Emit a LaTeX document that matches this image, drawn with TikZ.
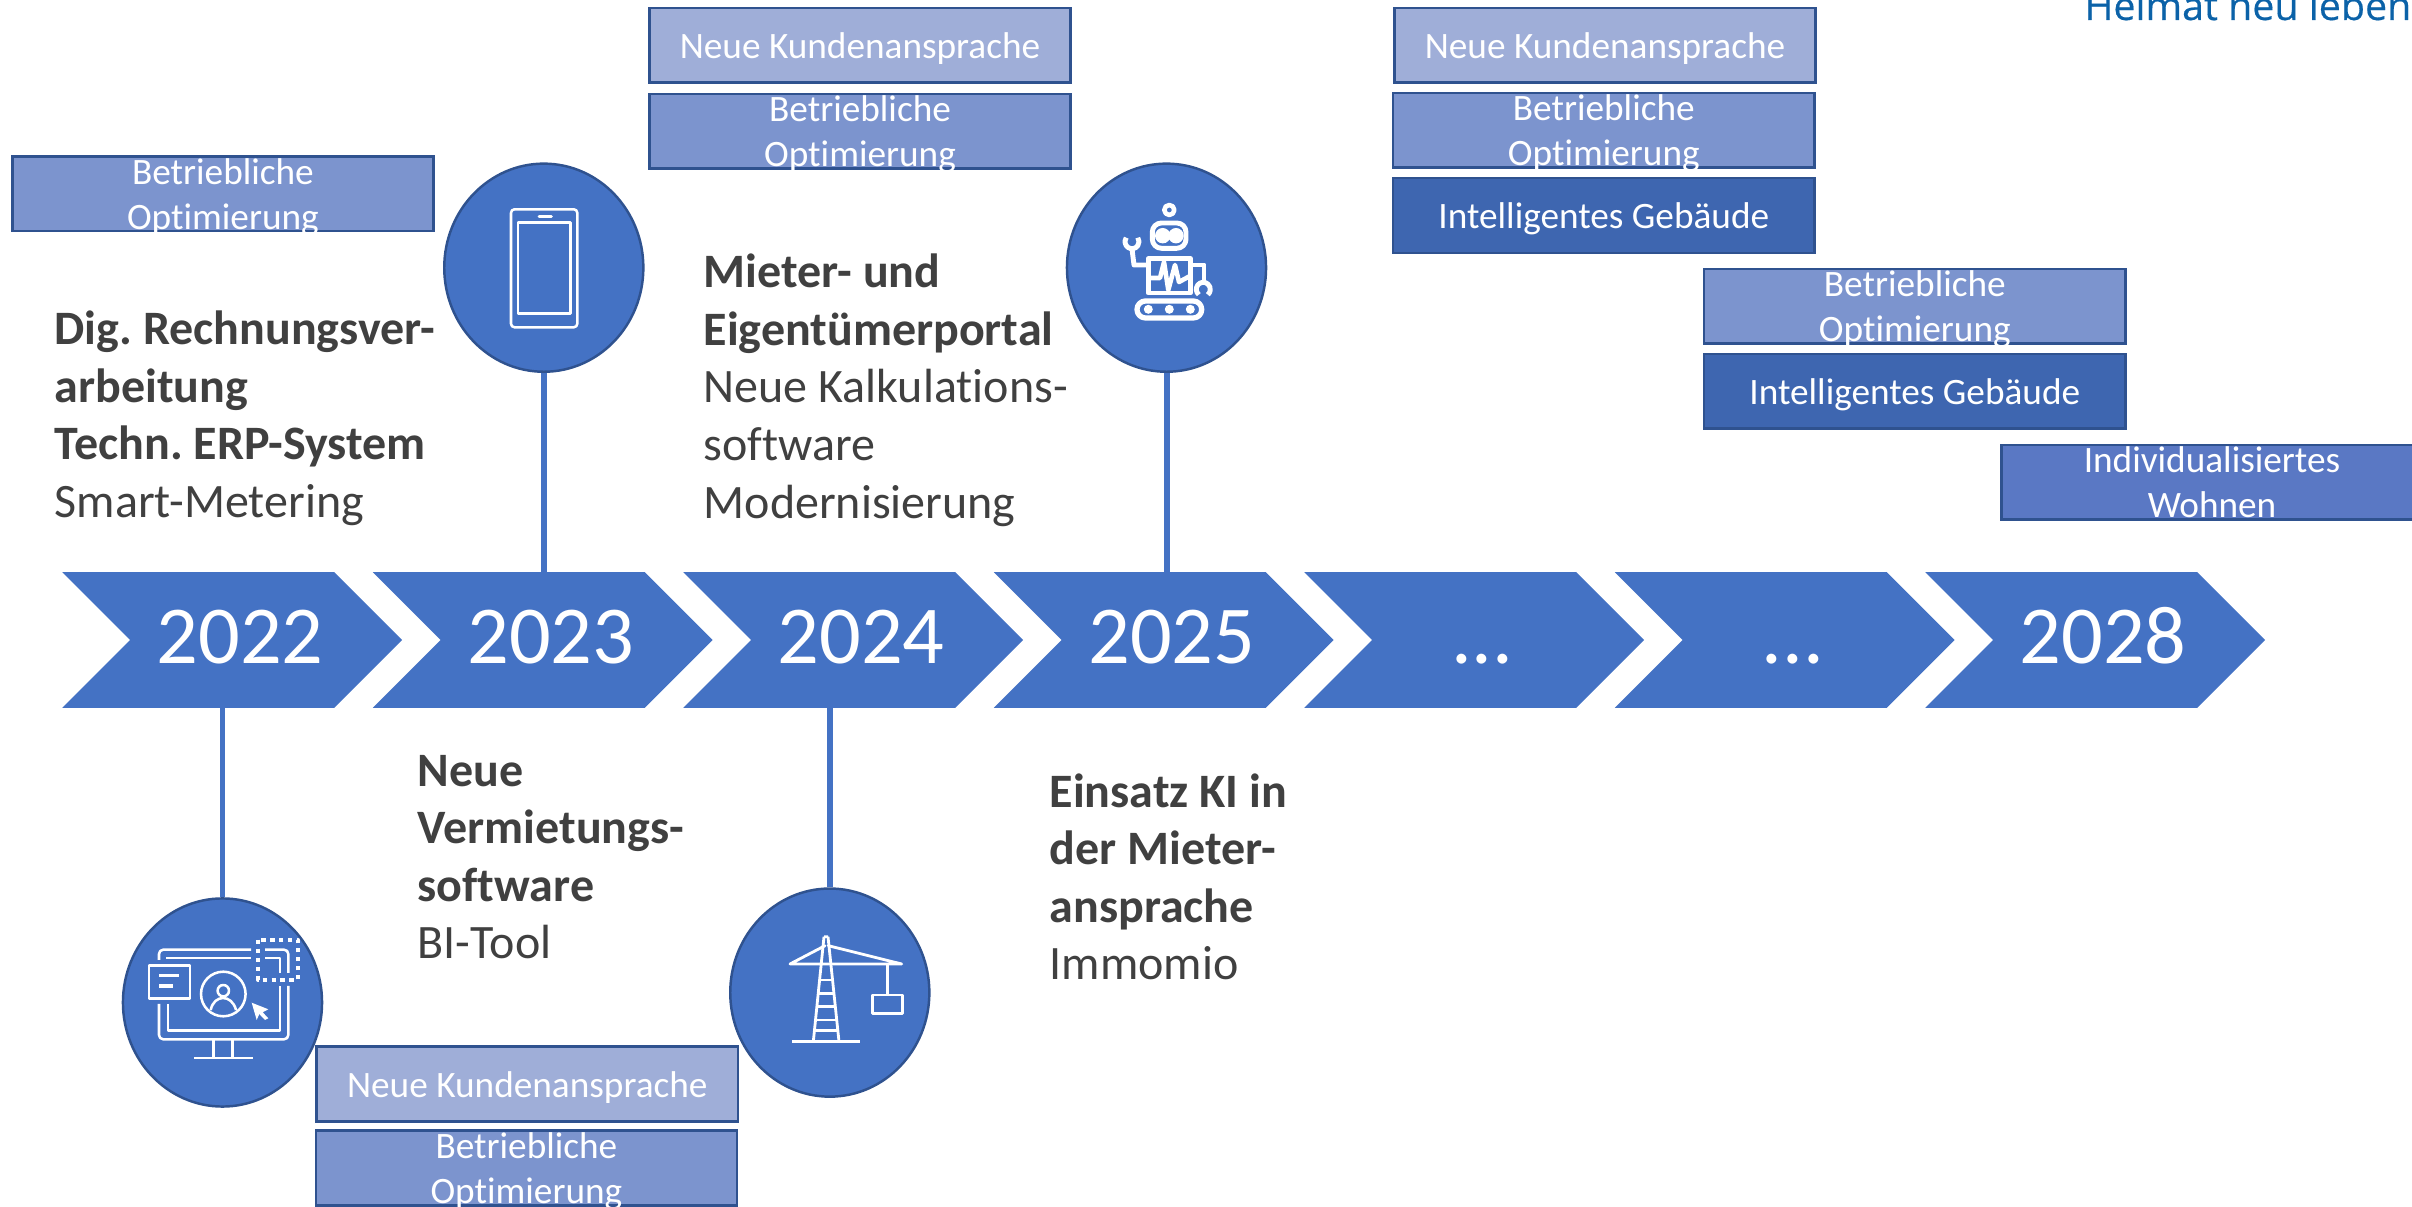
\documentclass[tikz,border=0pt]{standalone}
\usepackage{fontspec}
\setmainfont[Ligatures=NoCommon]{Carlito}
\newfontfamily\logofont[FakeBold=0.4]{Open Sans}
\usetikzlibrary{shapes}
\frenchspacing

\definecolor{fillblue}{HTML}{4472C4}
\definecolor{edgeblue}{HTML}{2F528F}
\definecolor{neublue}{HTML}{9FAED8}
\definecolor{optblue}{HTML}{7C94CE}
\definecolor{intblue}{HTML}{3E66B0}
\definecolor{indblue}{HTML}{5A78C4}
\definecolor{logoblue}{HTML}{0B62A8}
\definecolor{bodygray}{HTML}{404040}

\begin{document}
\begin{tikzpicture}[x=.01cm, y=-.01cm]
    \tikzstyle{year} = [shape=signal, signal from=west, signal to=east, signal pointer angle=90,
        fill=fillblue, text=white, inner sep=0, outer sep=0, minimum width=3.395cm, minimum height=1.355cm,
        text height=.47cm, text depth=0cm,
        font=\fontsize{23.4}{28}\selectfont, execute at begin node=\hspace*{.16cm}]
    \tikzstyle{round} = [shape=ellipse, draw=edgeblue, line width=.7pt, fill=fillblue, inner sep=0,
        minimum width=1.99cm, minimum height=2.08cm]
    \tikzstyle{stem} = [color=fillblue, line width=1.7pt]
    \tikzstyle{tag} = [shape=rectangle, draw=edgeblue, line width=.7pt, text=white, inner sep=0, align=center,
        minimum width=4.21cm, minimum height=.745cm, font=\fontsize{10.6}{12.8}\selectfont]
    \tikzstyle{oneline} = [tag, text height=.27cm, text depth=0cm]
    \tikzstyle{twolines} = [tag, text height=.71cm, text depth=0cm]
    \tikzstyle{para} = [anchor=north west, inner sep=0, align=left, text=bodygray,
        font=\fontsize{13.65}{16.36}\selectfont]
    \tikzstyle{icon} = [color=white, line width=.72pt, line join=round]

    \useasboundingbox (0, 0) rectangle (2412, 1207);

    \node (logo) [anchor=base east, inner sep=0, text=logoblue] at (2412, 20) {\logofont\fontsize{11.2}{13}\selectfont Heimat neu leben};

    % timeline
    \node (y22) [year] at (232.2, 640) {2022};
    \node (y23) [year] at (542.7, 640) {2023};
    \node (y24) [year] at (853.2, 640) {2024};
    \node (y25) [year] at (1163.7, 640) {2025};
    \node (y26) [year] at (1474.2, 640) {...};
    \node (y27) [year] at (1784.7, 640) {...};
    \node (y28) [year] at (2095.2, 640) {2028};

    \node (c22) [round] at (222.5, 1002.5) {};
    \node (c23) [round] at (543.8, 267.7) {};
    \node (c24) [round] at (829.8, 992.6) {};
    \node (c25) [round] at (1166.5, 267.7) {};

    \draw [stem] (c22) -- (c22 |- y22.south);
    \draw [stem] (c23) -- (c23 |- y23.north);
    \draw [stem] (c24) -- (c24 |- y24.south);
    \draw [stem] (c25) -- (c25 |- y25.north);

    % phone
    \draw [icon, rounded corners=1pt] (511, 209.3) rectangle (577.3, 327.3);
    \draw [icon] (518, 222.7) rectangle (570.7, 313.7);
    \draw [icon, line width=.8pt, line cap=round] (539, 216.7) -- (551.5, 216.7);

    % monitor
    \draw [icon, rounded corners=1.2pt] (159, 960) -- (159, 949.7) -- (251, 949.7);
    \draw [icon, rounded corners=1.2pt] (159, 1004) -- (159, 1039.3) -- (288.3, 1039.3) -- (288.3, 986);
    \draw [icon, rounded corners=1.2pt] (265, 949.7) -- (288.3, 949.7) -- (288.3, 973);
    \draw [icon] (166, 958) -- (251, 958);
    \draw [icon] (168, 1004) -- (168, 1030.7) -- (280, 1030.7) -- (280, 986);
    \draw [icon] (265, 958) -- (280, 958) -- (280, 973);
    \draw [icon] (149, 965.7) rectangle (190, 998.3);
    \draw [icon, line width=1pt] (159, 975.7) -- (179, 975.7) (159, 986) -- (172.7, 986);
    \draw [icon] (223.3, 994) circle [radius=22.3];
    \draw [icon] (223.3, 990.7) circle [radius=5.7];
    \draw [icon] (210.7, 1010) .. controls (214, 994) and (232, 994) .. (236, 1010);
    \fill [white] (251.7, 1002.7) -- (268.3, 1009.3) -- (262.7, 1012.3) -- (268.3, 1018.3) -- (265, 1020) -- (259.3, 1014) -- (256.7, 1020) -- cycle;
    \draw [icon, line width=1.1pt, dash pattern=on 1.3pt off 1.25pt] (258, 939.7) rectangle (297.7, 980);
    \draw [icon] (213.3, 1039.3) -- (213.3, 1058) (232.7, 1039.3) -- (232.7, 1058);
    \draw [icon] (194, 1058) -- (252.7, 1058);

    % crane
    \draw [icon, line width=.8pt] (824, 936.7) -- (813.3, 1041.7) (828, 936.7) -- (839, 1041.7) (824, 936.7) -- (828, 936.7);
    \draw [icon, line width=.8pt] (792.3, 1041.7) -- (860, 1041.7);
    \draw [icon, line width=.8pt, line cap=round] (790, 964) -- (901.7, 964) -- (828.3, 945.7) (825, 945.7) -- (790, 964);
    \draw [icon, line width=.8pt] (819.6, 980) -- (832.4, 980) (818.2, 993.3) -- (833.8, 993.3) (816.9, 1006.7) -- (835.1, 1006.7) (815.5, 1020) -- (836.5, 1020) (814.5, 1030.7) -- (837.5, 1030.7);
    \draw [icon, line width=.8pt] (887.7, 964) -- (887.7, 995);
    \draw [icon, line width=.8pt] (872.7, 995) rectangle (902.7, 1013.3);

    % robot
    \draw [icon, line width=1.3pt] (1169.3, 210) circle [radius=5];
    \draw [icon, line width=1.4pt, rounded corners=2.6pt] (1152.3, 223) rectangle (1186, 248.3);
    \fill [white] (1162.7, 235.7) circle [radius=7.7] (1176, 235.7) circle [radius=7.7];
    \draw [icon, line width=1.4pt] (1148.3, 258.7) rectangle (1190.3, 293);
    \draw [icon, line width=1.3pt] (1151, 278) -- (1160, 278) -- (1164, 262) -- (1168.3, 290) -- (1175, 265) -- (1179, 282) -- (1190, 276);
    \draw [icon, line width=1.4pt] (1146, 265) -- (1134, 265) -- (1132, 249);
    \draw [icon, line width=1.4pt] (1126.3, 237.7) arc [start angle=215, end angle=-35, radius=7];
    \draw [icon, line width=1.4pt] (1192, 265) -- (1204, 265) -- (1204, 282);
    \draw [icon, line width=1.4pt] (1198.8, 294.7) arc [start angle=130, end angle=410, radius=7];
    \draw [icon, line width=1.5pt, rounded corners=2.4pt] (1137, 301) rectangle (1201.7, 318);
    \fill [white] (1148.3, 309.3) circle [radius=4.5] (1169.3, 309.3) circle [radius=4.5] (1190.3, 309.3) circle [radius=4.5];

    % texts above and below
    \node (t22) [para] at (54, 310.5) {\textbf{Dig. Rechnungsver-}\\\textbf{arbeitung}\\\textbf{Techn. ERP-System}\\Smart-Metering};
    \node (t24) [para] at (703, 253.5) {\textbf{Mieter- und}\\\textbf{Eigentümerportal}\\Neue Kalkulations-\\software\\Modernisierung};
    \node (t23) [para] at (417, 754.5) {\textbf{Neue}\\\textbf{Vermietungs-}\\\textbf{software}\\BI-Tool};
    \node (t25) [para] at (1049, 773) {\textbf{Einsatz KI in}\\\textbf{der Mieter-}\\\textbf{ansprache}\\Immomio};

    % tags
    \node (opt22) [twolines, fill=optblue] at (222.9, 194) {Betriebliche\\Optimierung};
    \node (neu24) [oneline, fill=neublue] at (860, 45.3) {Neue Kundenansprache};
    \node (opt24) [twolines, fill=optblue] at (860, 131.3) {Betriebliche\\Optimierung};
    \node (neu26) [oneline, fill=neublue] at (1605, 45.3) {Neue Kundenansprache};
    \node (opt26) [twolines, fill=optblue] at (1603.8, 130.3) {Betriebliche\\Optimierung};
    \node (int26) [oneline, fill=intblue] at (1603.8, 215.5) {Intelligentes Gebäude};
    \node (opt27) [twolines, fill=optblue] at (1914.8, 306.1) {Betriebliche\\Optimierung};
    \node (int27) [oneline, fill=intblue] at (1914.8, 391.2) {Intelligentes Gebäude};
    \node (ind28) [twolines, fill=indblue] at (2212, 482.3) {Individualisiertes\\Wohnen};
    \node (neu23) [oneline, fill=neublue] at (527.3, 1084) {Neue Kundenansprache};
    \node (opt23) [twolines, fill=optblue] at (526.4, 1168) {Betriebliche\\Optimierung};
\end{tikzpicture}
\end{document}
